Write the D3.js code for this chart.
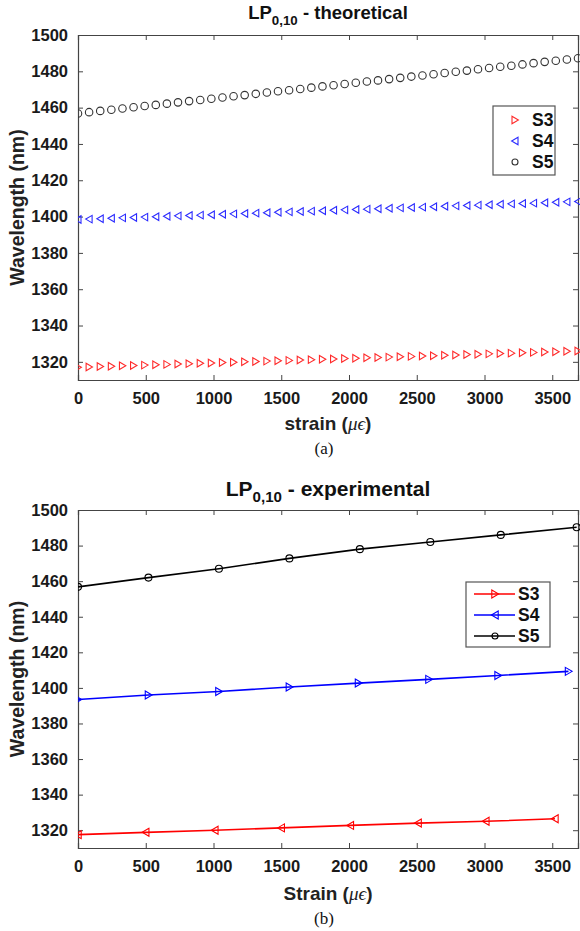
<!DOCTYPE html>
<html><head><meta charset="utf-8">
<script src="https://cdn.jsdelivr.net/npm/d3@7"></script>
<style>body{margin:0;background:#fff}svg{display:block}</style>
</head><body>
<svg id="c" width="580" height="931"></svg>
<script>
// ---- data ----
const yTicks = [1320,1340,1360,1380,1400,1420,1440,1460,1480,1500];
const xTicks = [0,500,1000,1500,2000,2500,3000,3500];
const seriesNames = ["S3","S4","S5"];

const strainTheory = [0,82,164,246,328,410,492,574,656,738,820,902,984,1066,1148,1230,1312,1394,1476,1558,1640,1722,1804,1886,1968,2050,2132,2214,2296,2378,2460,2542,2624,2706,2788,2870,2952,3034,3116,3198,3280,3362,3444,3526,3608,3690];
const s3Theory = [1317.0,1317.2,1317.4,1317.6,1317.8,1318.0,1318.2,1318.4,1318.6,1318.8,1319.0,1319.2,1319.4,1319.6,1319.8,1320.0,1320.2,1320.4,1320.6,1320.8,1321.0,1321.2,1321.4,1321.6,1321.8,1322.0,1322.2,1322.4,1322.6,1322.8,1323.0,1323.2,1323.4,1323.6,1323.8,1324.0,1324.2,1324.4,1324.6,1324.8,1325.0,1325.2,1325.4,1325.6,1325.8,1326.0];
const s4Theory = [1398.4,1398.6,1398.8,1399.1,1399.3,1399.5,1399.7,1399.9,1400.2,1400.4,1400.6,1400.8,1401.0,1401.3,1401.5,1401.7,1401.9,1402.1,1402.4,1402.6,1402.8,1403.0,1403.2,1403.5,1403.7,1403.9,1404.1,1404.3,1404.6,1404.8,1405.0,1405.2,1405.4,1405.7,1405.9,1406.1,1406.3,1406.5,1406.8,1407.0,1407.2,1407.4,1407.6,1407.9,1408.1,1408.3];
const s5Theory = [1456.8,1457.5,1458.2,1458.8,1459.5,1460.2,1460.9,1461.5,1462.2,1462.9,1463.6,1464.2,1464.9,1465.6,1466.3,1466.9,1467.6,1468.3,1469.0,1469.6,1470.3,1471.0,1471.7,1472.3,1473.0,1473.7,1474.4,1475.0,1475.7,1476.4,1477.1,1477.7,1478.4,1479.1,1479.8,1480.4,1481.1,1481.8,1482.5,1483.1,1483.8,1484.5,1485.2,1485.8,1486.5,1487.2];

const strainS3Exp = [0,500,1010,1500,2010,2510,3010,3520];
const s3Exp = [1317.5,1318.8,1320.0,1321.3,1322.7,1324.0,1325.0,1326.4];
const strainS4Exp = [0,520,1040,1560,2070,2590,3100,3620];
const s4Exp = [1393.5,1396.0,1398.0,1400.5,1402.7,1404.8,1407.0,1409.3];
const strainS5Exp = [0,520,1040,1560,2080,2600,3120,3680];
const s5Exp = [1456.8,1462.0,1467.0,1472.8,1478.0,1482.0,1486.0,1490.3];

// ---- drawing ----
const svg = d3.select("#c");
const FONT = "'Liberation Sans', Arial, sans-serif";
const SERIF = "'Liberation Serif', 'Times New Roman', serif";
const AX = "#444";

function marker(g, type, x, y, color, sz) {
  const s = sz;
  if (type === "o") {
    g.append("circle").attr("cx", x).attr("cy", y).attr("r", s*0.5)
      .attr("fill", "none").attr("stroke", color).attr("stroke-width", 1.1);
  } else {
    const h = s*0.5;
    const pts = type === ">" ? [[x-h*0.8,y-h],[x+h*0.9,y],[x-h*0.8,y+h]] : [[x+h*0.8,y-h],[x-h*0.9,y],[x+h*0.8,y+h]];
    g.append("path").attr("d", d3.line()(pts) + "Z")
      .attr("fill", "none").attr("stroke", color).attr("stroke-width", 1.1);
  }
}

function panel(o) {
  const x = d3.scaleLinear().domain([0, 3690]).range([o.left, o.right]);
  const y = d3.scaleLinear().domain([1310, 1500]).range([o.bottom, o.top]);
  const g = svg.append("g");
  const tl = 5;
  const ax = g.append("g").attr("transform", `translate(0,${o.bottom})`)
    .call(d3.axisBottom(x).tickValues(xTicks).tickSize(-tl).tickPadding(12).tickFormat(d3.format("d")));
  const axTop = g.append("g").attr("transform", `translate(0,${o.top})`)
    .call(d3.axisTop(x).tickValues(xTicks).tickSize(-tl).tickFormat(""));
  const ay = g.append("g").attr("transform", `translate(${o.left},0)`)
    .call(d3.axisLeft(y).tickValues(yTicks).tickSize(-tl).tickPadding(10).tickFormat(d3.format("d")));
  const ayR = g.append("g").attr("transform", `translate(${o.right},0)`)
    .call(d3.axisRight(y).tickValues(yTicks).tickSize(-tl).tickFormat(""));
  [ax, axTop, ay, ayR].forEach(a => {
    a.select(".domain").attr("stroke", AX).attr("stroke-width", 1.2);
    a.selectAll(".tick line").attr("stroke", AX).attr("stroke-width", 1);
    a.selectAll("text").attr("font-family", FONT).attr("font-weight", "bold")
      .attr("font-size", 16.5).attr("fill", "#1a1a1a");
  });
  const cid = "clip" + o.id;
  svg.append("clipPath").attr("id", cid).append("rect")
    .attr("x", o.left).attr("y", o.top - 6).attr("width", o.right - o.left + 6).attr("height", o.bottom - o.top + 6);
  const plot = g.append("g").attr("clip-path", `url(#${cid})`);

  o.series.forEach(s => {
    if (s.line) {
      plot.append("path").datum(d3.zip(s.xs, s.ys))
        .attr("d", d3.line().x(d => x(d[0])).y(d => y(d[1])))
        .attr("fill", "none").attr("stroke", s.color).attr("stroke-width", 1.6);
    }
    s.xs.forEach((xv, i) => marker(plot, s.mk, x(xv), y(s.ys[i]), s.color, s.size));
  });

  const cx = (o.left + o.right) / 2;
  const t = g.append("text").attr("x", cx).attr("y", o.titleY).attr("text-anchor", "middle")
    .attr("font-family", FONT).attr("font-weight", "bold").attr("font-size", o.titleSize).attr("fill", "#111");
  t.append("tspan").text("LP");
  t.append("tspan").attr("font-size", o.titleSize * 0.72).attr("dy", o.titleSize * 0.3).text("0,10");
  t.append("tspan").attr("dy", -o.titleSize * 0.3).text(" - " + o.title);

  const xl = g.append("text").attr("x", cx).attr("y", o.xlabY).attr("text-anchor", "middle")
    .attr("font-family", FONT).attr("font-weight", "bold").attr("font-size", 19).attr("fill", "#222");
  xl.append("tspan").text(o.xlab + " (");
  xl.append("tspan").attr("font-family", SERIF).attr("font-style", "italic").attr("font-weight", "normal").text("\u03bc\u03f5");
  xl.append("tspan").text(")");
  g.append("text").attr("transform", `translate(${o.ylabX},${(o.top + o.bottom) / 2}) rotate(-90)`)
    .attr("text-anchor", "middle").attr("font-family", FONT).attr("font-weight", "bold")
    .attr("font-size", 19.5).attr("fill", "#222").text("Wavelength (nm)");
  g.append("text").attr("x", cx - 4).attr("y", o.capY).attr("text-anchor", "middle")
    .attr("font-family", SERIF).attr("font-size", 17).attr("fill", "#111").text(o.cap);

  const L = o.legend;
  g.append("rect").attr("x", L.x).attr("y", L.y).attr("width", L.w).attr("height", L.h)
    .attr("fill", "#fff").attr("stroke", "#555").attr("stroke-width", 1.2);
  L.items.forEach((it, i) => {
    const yy = L.y + L.pad + i * L.step;
    if (it.line) {
      g.append("line").attr("x1", L.x + 8).attr("x2", L.x + 49).attr("y1", yy).attr("y2", yy)
        .attr("stroke", it.color).attr("stroke-width", 1.6);
      marker(g, it.mk, L.x + 29, yy, it.color, it.size);
    } else {
      marker(g, it.mk, L.x + 22, yy, it.color, it.size);
    }
    g.append("text").attr("x", L.tx).attr("y", yy + 6).attr("font-family", FONT).attr("font-weight", "bold")
      .attr("font-size", 17.5).attr("fill", "#111").text(seriesNames[i]);
  });
}

panel({
  id: "a", left: 78, right: 578, top: 35, bottom: 380,
  title: "theoretical", titleY: 19, titleSize: 18.5,
  xlab: "strain", xlabY: 430, ylabX: 24, cap: "(a)", capY: 454,
  series: [
    {xs: strainTheory, ys: s3Theory, color: "#ff2a2a", mk: ">", size: 7.5, line: false},
    {xs: strainTheory, ys: s4Theory, color: "#2a2aff", mk: "<", size: 7.5, line: false},
    {xs: strainTheory, ys: s5Theory, color: "#333", mk: "o", size: 7.5, line: false}
  ],
  legend: {x: 493, y: 106, w: 62, h: 69, pad: 14, step: 21, tx: 532,
    items: [{mk: ">", color: "#ff2a2a", size: 7.5}, {mk: "<", color: "#2a2aff", size: 7.5}, {mk: "o", color: "#333", size: 6}]}
});

panel({
  id: "b", left: 78, right: 578, top: 510, bottom: 848,
  title: "experimental", titleY: 496, titleSize: 21,
  xlab: "Strain", xlabY: 900, ylabX: 24, cap: "(b)", capY: 924,
  series: [
    {xs: strainS3Exp, ys: s3Exp, color: "#ff0000", mk: "<", size: 8, line: true},
    {xs: strainS4Exp, ys: s4Exp, color: "#0000ff", mk: ">", size: 8, line: true},
    {xs: strainS5Exp, ys: s5Exp, color: "#000", mk: "o", size: 7, line: true}
  ],
  legend: {x: 466, y: 582, w: 84, h: 65, pad: 12, step: 21, tx: 518,
    items: [{mk: ">", color: "#ff0000", size: 8, line: true}, {mk: "<", color: "#0000ff", size: 8, line: true}, {mk: "o", color: "#000", size: 6, line: true}]}
});
</script>
</body></html>
